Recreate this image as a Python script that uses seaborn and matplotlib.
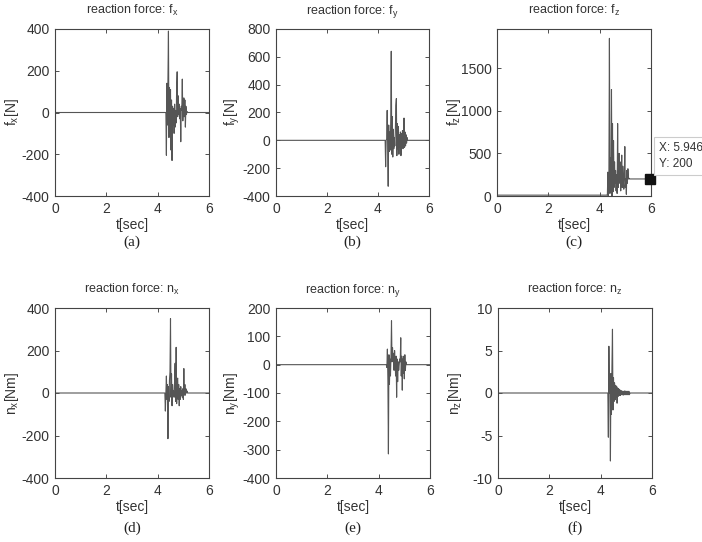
import numpy as np
import pandas as pd
import seaborn as sns
import matplotlib
matplotlib.use("Agg")
import matplotlib.pyplot as plt

# time stamps (sec): quiet phase, contact burst, end of record
t = [0.0, 4.28,
     4.30, 4.32, 4.34, 4.36, 4.38, 4.40, 4.42, 4.44, 4.46, 4.48,
     4.50, 4.52, 4.54, 4.56, 4.58, 4.60, 4.62, 4.64, 4.66, 4.68,
     4.70, 4.72, 4.74, 4.76, 4.78, 4.80, 4.82, 4.84, 4.86, 4.88,
     4.90, 4.92, 4.94, 4.96, 4.98, 5.00, 5.02, 5.04, 5.06, 5.08,
     5.10, 5.12, 5.14, 5.16, 5.18, 5.20,
     6.0]

fx = [0, 0,
      0, 0, -205, 140, -60, 155, 390, -120, 120, -80,
      110, -180, 60, -230, 30, -60, 20, -100, 40, -70,
      10, -50, 120, 195, -20, 80, -10, 40, -30, 20,
      -140, 30, 10, 160, -40, 20, 70, -20, 60, -70,
      30, -10, 5, 0, 0, 0,
      0]

fy = [0, 0,
      -190, 0, 10, 215, -60, -330, 110, -80, 60, -70,
      150, 640, -100, 170, -120, 80, -60, 20, -40, 60,
      250, 300, -110, 120, -60, 100, -100, 40, -50, 60,
      -110, 50, -20, 70, -60, 30, 160, -50, 60, -40,
      40, -20, 20, 0, 0, 0,
      0]

fz = [10, 10,
      10, 280, 0, 250, 1850, 30, 450, 100, 1250, 0,
      850, 50, 650, 100, 400, 150, 300, 60, 250, 30,
      850, 100, 380, 500, 150, 400, 60, 280, 480, 100,
      350, 200, 80, 250, 580, 100, 200, 20, 300, 150,
      320, 200, 210, 200, 200, 200,
      200]

nx = [0, 0,
      -85, 0, 80, -30, 40, -215, 30, -40, 60, 100,
      350, -20, 90, -60, 40, -10, 10, -20, 60, 140,
      -40, 215, -50, 60, 70, -30, 40, -60, 20, -30,
      30, -10, 10, -20, 20, -30, 115, -10, 40, -10,
      20, 0, 10, 0, 0, 0,
      0]

ny = [0, 0,
      0, -10, 55, -60, -315, 35, -70, 20, -40, 30,
      155, 10, 60, 20, 40, -20, 50, 10, -40, 30,
      -115, 20, -60, 10, -20, 0, 20, 10, 95, -40,
      30, -90, 20, -30, 30, -50, 35, -20, 10, 0,
      0, 0, 0, 0, 0, 0,
      0]

nz = [0, 0,
      -5.2, 5.5, 0, 1.0, -8.0, 2.3, -2.5, 3.2, 7.5, -2.0,
      1.8, -1.0, 1.2, -0.8, 0.9, -0.5, 0.8, -1.2, 0.6, -0.4,
      0.5, -0.3, 0.4, -0.3, 0.3, -0.2, 0.25, -0.2, 0.2, -0.25,
      0.2, -0.2, 0.25, -0.2, 0.2, -0.2, 0.2, -0.2, 0.2, -0.2,
      0.2, -0.2, 0, 0, 0, 0,
      0]

titles = ["reaction force: f$_\\mathregular{x}$", "reaction force: f$_\\mathregular{y}$",
          "reaction force: f$_\\mathregular{z}$", "reaction force: n$_\\mathregular{x}$",
          "reaction force: n$_\\mathregular{y}$", "reaction force: n$_\\mathregular{z}$"]
ylabels = ["f$_\\mathregular{x}$[N]", "f$_\\mathregular{y}$[N]", "f$_\\mathregular{z}$[N]",
           "n$_\\mathregular{x}$[Nm]", "n$_\\mathregular{y}$[Nm]", "n$_\\mathregular{z}$[Nm]"]
panel_tags = ["(a)", "(b)", "(c)", "(d)", "(e)", "(f)"]
ylims = [(-400, 400), (-400, 800), (0, 1960), (-400, 400), (-400, 200), (-10, 10)]
yticks = [[-400, -200, 0, 200, 400],
          [-400, -200, 0, 200, 400, 600, 800],
          [0, 500, 1000, 1500],
          [-400, -200, 0, 200, 400],
          [-400, -300, -200, -100, 0, 100, 200],
          [-10, -5, 0, 5, 10]]
xticks = [0, 2, 4, 6]

# data tip on panel (c)
tip_x, tip_y = 5.946, 200

df = pd.DataFrame({"t": t, "fx": fx, "fy": fy, "fz": fz, "nx": nx, "ny": ny, "nz": nz})
cols = ["fx", "fy", "fz", "nx", "ny", "nz"]

sns.set_style("ticks")
plt.rcParams["font.family"] = ["Liberation Sans", "DejaVu Sans"]
plt.rcParams["mathtext.fontset"] = "custom"
plt.rcParams["mathtext.rm"] = "Liberation Sans"
plt.rcParams["axes.unicode_minus"] = False

W, H = 702, 542
fig = plt.figure(figsize=(W / 100, H / 100), dpi=100)

# axes boxes in pixels: left, right, top, bottom
boxes = [(55, 209, 29, 196), (276, 429, 29, 196), (497, 651, 29, 196),
         (55, 209, 308, 478), (276, 430, 308, 478), (498, 652, 308, 478)]
text_c = "#333333"
line_c = "#555555"

for i, col in enumerate(cols):
    l, r, tp, b = boxes[i]
    ax = fig.add_axes([l / W, 1 - b / H, (r - l) / W, (b - tp) / H])
    sns.lineplot(data=df, x="t", y=col, ax=ax, estimator=None, sort=False,
                 color=line_c, linewidth=0.8)
    ax.set_xlim(0, 6)
    ax.set_ylim(*ylims[i])
    ax.set_xticks(xticks)
    ax.set_yticks(yticks[i])
    ax.tick_params(direction="in", length=3, width=0.6, top=True, right=True,
                   labelsize=10, colors=text_c, pad=4)
    for s in ax.spines.values():
        s.set_color("#444444")
        s.set_linewidth(0.8)
    ax.set_title(titles[i], fontsize=9, color=text_c, pad=11)
    ax.set_xlabel("t[sec]", fontsize=10, color=text_c, labelpad=2)
    ax.set_ylabel(ylabels[i], fontsize=10, color=text_c)
    ax.yaxis.set_label_coords(-34 / (r - l), 0.5)
    ax.grid(False)

    cx = (l + r) / 2 / W
    ty = 242 if i < 3 else 528
    fig.text(cx, 1 - ty / H, panel_tags[i], ha="center", va="center",
             fontsize=11, family="Liberation Serif", color="#222222")

    if col == "fz":
        ax.plot([tip_x], [tip_y], marker="s", markersize=7, color="#111111",
                clip_on=False, zorder=5)
        fig.text(659 / W, 1 - 156 / H, f"X: {tip_x}\nY: {tip_y}", ha="left",
                 va="center", fontsize=8.5, color=text_c, linespacing=1.4,
                 bbox=dict(boxstyle="square,pad=0.4", fc="white", ec="#cccccc", lw=0.8))

fig.savefig("out.png", dpi=100)
